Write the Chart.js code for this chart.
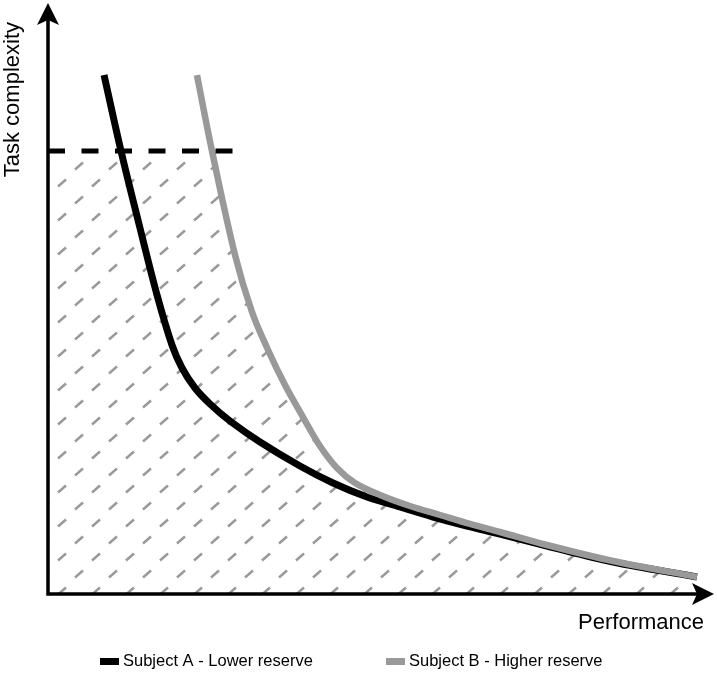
<!DOCTYPE html>
<html>
<head>
<meta charset="utf-8">
<script src="https://cdn.jsdelivr.net/npm/chart.js@4"></script>
<style>
  html, body { margin: 0; padding: 0; background: #fff; }
  #wrap { width: 717px; height: 673px; }
</style>
</head>
<body>
<div id="wrap"><canvas id="chart" width="717" height="673"></canvas></div>
<script>
// values (arbitrary units, 0-100 on both axes)
const seriesNames = ["Subject A - Lower reserve", "Subject B - Higher reserve"];
const subjectAx = [8.54, 11.13, 14.02, 16.62, 18.90, 20.43, 22.41, 24.70, 27.74, 32.32, 38.41, 43.45, 48.63, 53.66, 58.69, 63.87, 68.90, 76.07, 86.13, 98.93];
const subjectAy = [90.73, 77.45, 63.99, 52.27, 43.53, 39.51, 36.01, 33.22, 30.24, 26.57, 22.38, 19.41, 16.96, 15.21, 13.46, 11.89, 10.49, 8.39, 5.59, 2.97];
const subjectBx = [22.71, 25.0, 28.51, 31.10, 33.54, 36.13, 38.87, 41.46, 44.05, 46.80, 50.61, 55.18, 59.76, 64.33, 68.90, 76.07, 86.13, 98.93];
const subjectBy = [90.73, 77.45, 59.27, 49.30, 42.66, 36.54, 30.94, 25.87, 22.03, 19.41, 17.31, 15.38, 13.81, 12.24, 10.84, 8.57, 5.77, 2.97];
const thresholdX = [0, 28.2];
const thresholdY = [77.45, 77.45];

const FONT = "'Liberation Sans', Arial, Helvetica, sans-serif";

function makeHatch(ctx) {
  const c = document.createElement("canvas");
  c.width = 34; c.height = 34;
  const g = c.getContext("2d");
  g.strokeStyle = "#999";
  g.lineWidth = 2.5;
  const centers = [[28, 13], [11, 30]];
  for (const [cx, cy] of centers) {
    for (let dx = -34; dx <= 34; dx += 34) {
      for (let dy = -34; dy <= 34; dy += 34) {
        g.beginPath();
        g.moveTo(cx + dx - 4, cy + dy + 3.5);
        g.lineTo(cx + dx + 4, cy + dy - 3.5);
        g.stroke();
      }
    }
  }
  return ctx.createPattern(c, "repeat");
}

// hatched area under subject B, capped by the dashed threshold
const hatchPlugin = {
  id: "hatch",
  beforeDatasetsDraw(chart) {
    const { ctx, chartArea, scales } = chart;
    const meta = chart.getDatasetMeta(1);
    const line = meta.dataset;
    const pts = meta.data;
    line.updateControlPoints(chartArea, "x");
    const topY = scales.y.getPixelForValue(thresholdY[0]);
    ctx.save();
    ctx.beginPath();
    ctx.rect(chartArea.left, topY, chartArea.right - chartArea.left, chartArea.bottom - topY);
    ctx.clip();
    ctx.beginPath();
    line.path(ctx);
    ctx.lineTo(pts[pts.length - 1].x, chartArea.bottom);
    ctx.lineTo(chartArea.left, chartArea.bottom);
    ctx.lineTo(chartArea.left, pts[0].y);
    ctx.closePath();
    ctx.fillStyle = makeHatch(ctx);
    ctx.fill();
    ctx.restore();
  }
};

// axes with arrow heads + legend
const axesPlugin = {
  id: "axesArrows",
  afterDraw(chart) {
    const { ctx, chartArea } = chart;
    const x0 = chartArea.left, y0 = chartArea.bottom;
    ctx.save();
    ctx.strokeStyle = "#000";
    ctx.fillStyle = "#000";
    ctx.lineWidth = 3.5;
    ctx.beginPath();
    ctx.moveTo(x0, y0);
    ctx.lineTo(x0, 18);
    ctx.moveTo(x0 - 1.75, y0);
    ctx.lineTo(700, y0);
    ctx.stroke();
    // top arrow
    ctx.beginPath();
    ctx.moveTo(x0, 3);
    ctx.lineTo(x0 + 11, 25);
    ctx.lineTo(x0, 20);
    ctx.lineTo(x0 - 11, 25);
    ctx.closePath();
    ctx.fill();
    // right arrow
    ctx.beginPath();
    ctx.moveTo(714, y0);
    ctx.lineTo(692, y0 - 11);
    ctx.lineTo(697, y0);
    ctx.lineTo(692, y0 + 11);
    ctx.closePath();
    ctx.fill();

    // legend
    const colors = ["#000", "#999"];
    const boxX = [100, 386];
    ctx.font = "16.5px " + FONT;
    ctx.textBaseline = "middle";
    ctx.textAlign = "left";
    seriesNames.forEach((name, i) => {
      ctx.fillStyle = colors[i];
      ctx.fillRect(boxX[i], 658, 19, 7);
      ctx.fillStyle = "#000";
      ctx.fillText(name, boxX[i] + 23, 661);
    });
    ctx.restore();
  }
};

const toPoints = (xs, ys) => xs.map((x, i) => ({ x, y: ys[i] }));

new Chart(document.getElementById("chart").getContext("2d"), {
  type: "scatter",
  data: {
    datasets: [
      {
        label: seriesNames[0],
        data: toPoints(subjectAx, subjectAy),
        showLine: true,
        borderColor: "#000",
        borderWidth: 7,
        pointRadius: 0,
        tension: 0.35,
        borderCapStyle: "butt",
        order: 2
      },
      {
        label: seriesNames[1],
        data: toPoints(subjectBx, subjectBy),
        showLine: true,
        borderColor: "#999",
        borderWidth: 6.5,
        pointRadius: 0,
        tension: 0.35,
        borderCapStyle: "butt",
        order: 1
      },
      {
        label: "threshold",
        data: toPoints(thresholdX, thresholdY),
        showLine: true,
        borderColor: "#000",
        borderWidth: 5,
        borderDash: [17, 16.5],
        borderCapStyle: "butt",
        pointRadius: 0,
        order: 0
      }
    ]
  },
  options: {
    responsive: false,
    animation: false,
    events: [],
    layout: { padding: { left: 0, top: 22, right: 13, bottom: 0 } },
    plugins: {
      legend: { display: false },
      tooltip: { enabled: false }
    },
    scales: {
      x: {
        type: "linear",
        min: 0,
        max: 100,
        grid: { display: false },
        border: { display: false },
        ticks: { display: false },
        title: {
          display: true,
          text: "Performance",
          align: "end",
          color: "#000",
          font: { family: FONT, size: 22 },
          padding: { top: 0, bottom: 37 }
        },
        afterFit(scale) { scale.height = 79; }
      },
      y: {
        min: 0,
        max: 100,
        grid: { display: false },
        border: { display: false },
        ticks: { display: false },
        title: {
          display: true,
          text: "Task complexity",
          align: "end",
          color: "#000",
          font: { family: FONT, size: 22 },
          padding: { top: 0, bottom: 0 }
        },
        afterFit(scale) { scale.width = 48; }
      }
    }
  },
  plugins: [hatchPlugin, axesPlugin]
});
</script>
</body>
</html>
